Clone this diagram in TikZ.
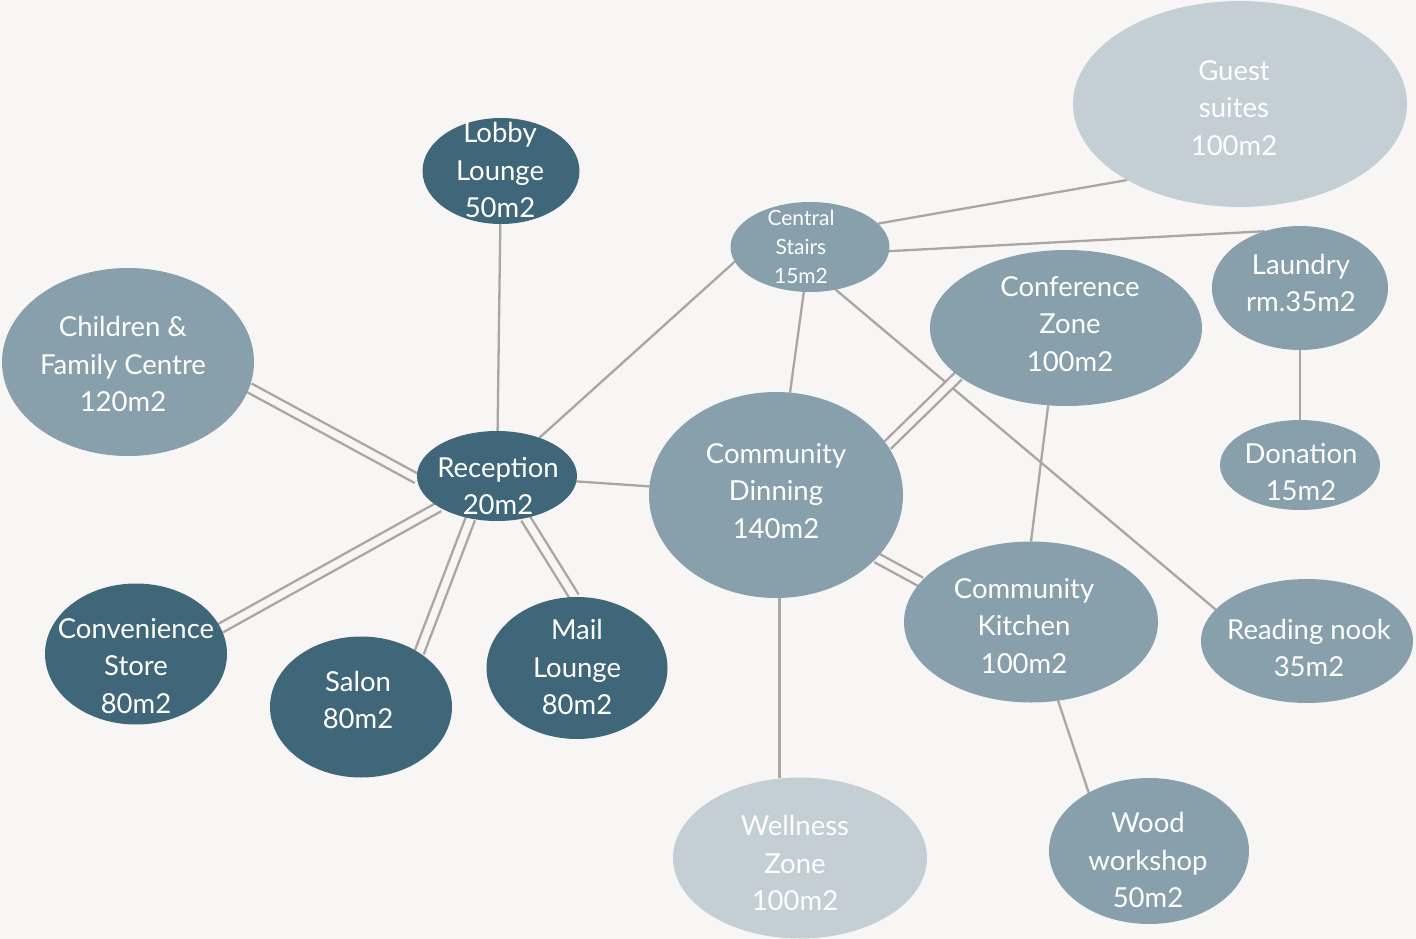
\documentclass[tikz,border=0pt]{standalone}
\usepackage{fontspec}
\setmainfont{Lato}
\usetikzlibrary{shapes.geometric,backgrounds}
\definecolor{bg}{HTML}{F8F6F4}
\definecolor{dk}{HTML}{3F6779}
\definecolor{md}{HTML}{87A0AB}
\definecolor{lt}{HTML}{C3CFD4}
\definecolor{ln}{HTML}{A9A6A4}
\begin{document}
\begin{tikzpicture}[x=1pt,y=-1pt,
  room/.style={ellipse, inner sep=0pt, outer sep=0pt},
  rdark/.style={room, fill=dk},
  rmed/.style={room, fill=md},
  rlight/.style={room, fill=lt},
  rtext/.style={inner sep=0pt, text=white, align=center, font=\fontsize{27.5}{37.5}\selectfont},
  rsmall/.style={rtext, font=\fontsize{21}{29}\selectfont},
  link/.style={draw=ln, line width=2.3pt},
  dlink/.style={draw=ln, line width=2.4pt, double=bg, double distance=7.2pt},
]
\useasboundingbox (0,0) rectangle (1416,939);
% rooms
\node[rdark, minimum width=157pt, minimum height=106pt] (lobby) at (501,171) {};
\node[rmed, minimum width=159pt, minimum height=90pt] (stairs) at (810,247) {};
\node[rlight, minimum width=334pt, minimum height=206pt] (guest) at (1240,104) {};
\node[rmed, minimum width=176pt, minimum height=124pt] (laundry) at (1300,288) {};
\node[rmed, minimum width=272pt, minimum height=156pt] (conf) at (1066,328) {};
\node[rmed, minimum width=252pt, minimum height=188pt] (children) at (128,362) {};
\node[rdark, minimum width=160pt, minimum height=90pt] (reception) at (497,476) {};
\node[rmed, minimum width=254pt, minimum height=206pt] (dinning) at (776,495) {};
\node[rmed, minimum width=160pt, minimum height=90pt] (donation) at (1300,465) {};
\node[rdark, minimum width=182pt, minimum height=141pt] (conv) at (136,654) {};
\node[rdark, minimum width=182pt, minimum height=141pt] (salon) at (361,707) {};
\node[rdark, minimum width=181pt, minimum height=142pt] (mail) at (577,668) {};
\node[rmed, minimum width=254pt, minimum height=161pt] (kitchen) at (1031,622) {};
\node[rmed, minimum width=212pt, minimum height=124pt] (reading) at (1307,641) {};
\node[rlight, minimum width=254pt, minimum height=161pt] (wellness) at (800,858) {};
\node[rmed, minimum width=200pt, minimum height=146pt] (wood) at (1149,851) {};
% labels
\node[rtext] (lobbyT) at (500,170) {Lobby\\Lounge\\50m2};
\node[rsmall] (stairsT) at (801,247) {Central\\Stairs\\15m2};
\node[rtext] (guestT) at (1234,108) {Guest\\suites\\100m2};
\node[rtext] (laundryT) at (1301,283) {Laundry\\rm.35m2};
\node[rtext] (confT) at (1070,324) {Conference\\Zone\\100m2};
\node[rtext] (childrenT) at (123,364) {Children \&\\Family Centre\\120m2};
\node[rtext] (receptionT) at (498,486) {Reception\\20m2};
\node[rtext] (dinningT) at (776,491) {Community\\Dinning\\140m2};
\node[rtext] (donationT) at (1301,472) {Donation\\15m2};
\node[rtext] (convT) at (136,666) {Convenience\\Store\\80m2};
\node[rtext] (salonT) at (358,700) {Salon\\80m2};
\node[rtext] (mailT) at (577,667) {Mail\\Lounge\\80m2};
\node[rtext] (kitchenT) at (1024,626) {Community\\Kitchen\\100m2};
\node[rtext] (readingT) at (1309,648) {Reading nook\\35m2};
\node[rtext] (wellnessT) at (795,863) {Wellness\\Zone\\100m2};
\node[rtext] (woodT) at (1148,860) {Wood\\workshop\\50m2};
\begin{pgfonlayer}{background}
\fill[bg] (0,0) rectangle (1416,939);
\draw[link] (lobby) -- (reception);
\draw[link] (reception) -- (stairs.191);
\draw[link] (stairs) -- (dinning);
\draw[link] (stairs.19) -- (guest.214);
\draw[link] (stairs.357) -- (laundry.122);
\draw[link] (stairs.301) -- (reading.161);
\draw[dlink] (children.348) -- (reception.182);
\draw[dlink] (reception.208) -- (conv.17);
\draw[dlink] (reception.238) -- (salon.43);
\draw[dlink] (reception.304) -- (mail.92);
\draw[link] (reception) -- (dinning);
\draw[dlink] (dinning.24) -- (conf.204);
\draw[dlink] (dinning.328) -- (kitchen.160);
\draw[link] (conf.257) -- (kitchen.90);
\draw[link] (dinning.272) -- (dinning.272 |- wellness.north);
\draw[link] (laundry) -- (donation);
\draw[link] (kitchen.289) -- (wood.136);
\end{pgfonlayer}
\end{tikzpicture}
\end{document}
